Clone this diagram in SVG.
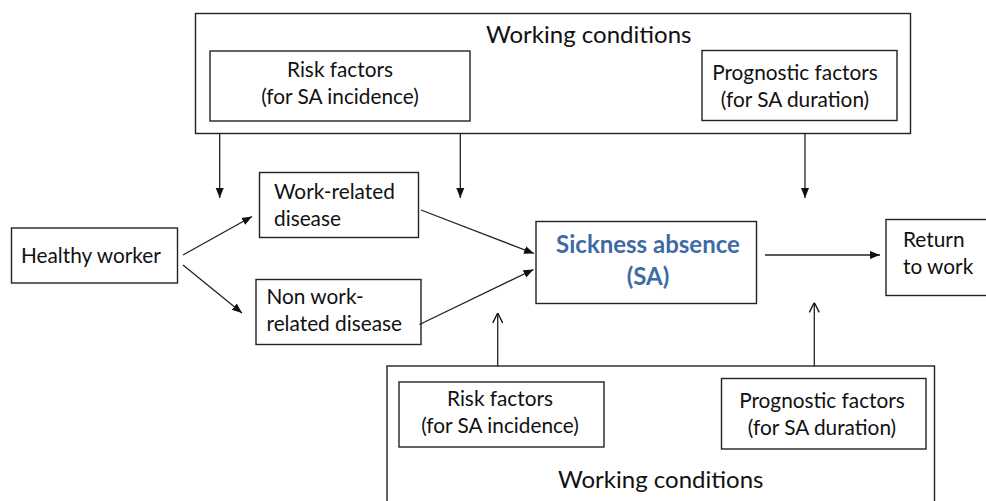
<svg xmlns="http://www.w3.org/2000/svg" width="986" height="501" viewBox="0 0 986 501">
  <defs>
    <marker id="head" viewBox="0 0 10 10" refX="10" refY="5" markerWidth="10" markerHeight="10" markerUnits="userSpaceOnUse" orient="auto">
      <path d="M0,1 L10,5 L0,9 Z" fill="#111"/>
    </marker>
    <marker id="open" viewBox="0 0 10 10" refX="10" refY="5" markerWidth="11" markerHeight="11" markerUnits="userSpaceOnUse" orient="auto">
      <path d="M1,0.5 L10,5 L1,9.5" fill="none" stroke="#111" stroke-width="1.2"/>
    </marker>
  </defs>
  <style>
    rect { fill: #fff; stroke: #222; stroke-width: 1.4; }
    text { font-family: Lato, "Liberation Sans", sans-serif; font-size: 20.8px; fill: #111; }
    .title { font-size: 24px; }
    .sa { font-weight: bold; font-size: 24px; fill: #3e6aa6; }
    .mid { text-anchor: middle; }
    .conn line { stroke: #222; stroke-width: 1.3; }
    .filled { marker-end: url(#head); }
    .up { marker-end: url(#open); }
  </style>
  <rect x="0" y="0" width="986" height="501" style="fill:#fff;stroke:none"/>

  <g id="working-conditions-top">
    <rect x="195.5" y="13.5" width="715" height="120"/>
    <text class="title" x="486" y="43">Working conditions</text>
  </g>
  <g id="risk-factors-top">
    <rect x="210" y="51" width="260" height="70"/>
    <text class="mid" x="340" y="77">Risk factors</text>
    <text class="mid" x="340" y="104">(for SA incidence)</text>
  </g>
  <g id="prognostic-factors-top">
    <rect x="702" y="50.5" width="195" height="70"/>
    <text class="mid" x="795" y="80">Prognostic factors</text>
    <text class="mid" x="795" y="107">(for SA duration)</text>
  </g>

  <g id="healthy-worker">
    <rect x="11.5" y="228" width="166" height="55"/>
    <text x="21" y="263">Healthy worker</text>
  </g>
  <g id="work-related-disease">
    <rect x="259.5" y="172.5" width="159" height="65"/>
    <text x="274" y="199">Work-related</text>
    <text x="274" y="226">disease</text>
  </g>
  <g id="non-work-related-disease">
    <rect x="256" y="279.5" width="165" height="65"/>
    <text x="266.5" y="304">Non work-</text>
    <text x="266.5" y="331">related disease</text>
  </g>
  <g id="sickness-absence">
    <rect x="536" y="221.5" width="220.5" height="82"/>
    <text class="sa mid" x="648" y="253">Sickness absence</text>
    <text class="sa mid" x="648" y="285">(SA)</text>
  </g>
  <g id="return-to-work">
    <rect x="886" y="219.5" width="110" height="76"/>
    <text x="903" y="247">Return</text>
    <text x="903" y="274">to work</text>
  </g>

  <g id="working-conditions-bottom">
    <rect x="387" y="366" width="547.5" height="150"/>
    <text class="title" x="558" y="488">Working conditions</text>
  </g>
  <g id="risk-factors-bottom">
    <rect x="399" y="382" width="205" height="65"/>
    <text class="mid" x="500" y="406">Risk factors</text>
    <text class="mid" x="500" y="433">(for SA incidence)</text>
  </g>
  <g id="prognostic-factors-bottom">
    <rect x="721.5" y="378.5" width="204.5" height="70.5"/>
    <text class="mid" x="822" y="408">Prognostic factors</text>
    <text class="mid" x="822" y="435">(for SA duration)</text>
  </g>

  <g id="connectors" class="conn">
    <line class="filled" x1="219.7" y1="134" x2="219.7" y2="198"/>
    <line class="filled" x1="460.3" y1="134" x2="460.3" y2="198"/>
    <line class="filled" x1="805" y1="134" x2="805" y2="198"/>
    <line class="filled" x1="183" y1="255" x2="252" y2="216.5"/>
    <line class="filled" x1="183" y1="265" x2="242" y2="313"/>
    <line class="filled" x1="421" y1="210" x2="534" y2="253.5"/>
    <line class="filled" x1="419.5" y1="324.5" x2="533.5" y2="269.5"/>
    <line class="filled" x1="765" y1="255" x2="880" y2="255"/>
    <line class="up" x1="497.7" y1="366" x2="497.7" y2="313"/>
    <line class="up" x1="814.3" y1="366" x2="814.3" y2="302.5"/>
  </g>
</svg>
